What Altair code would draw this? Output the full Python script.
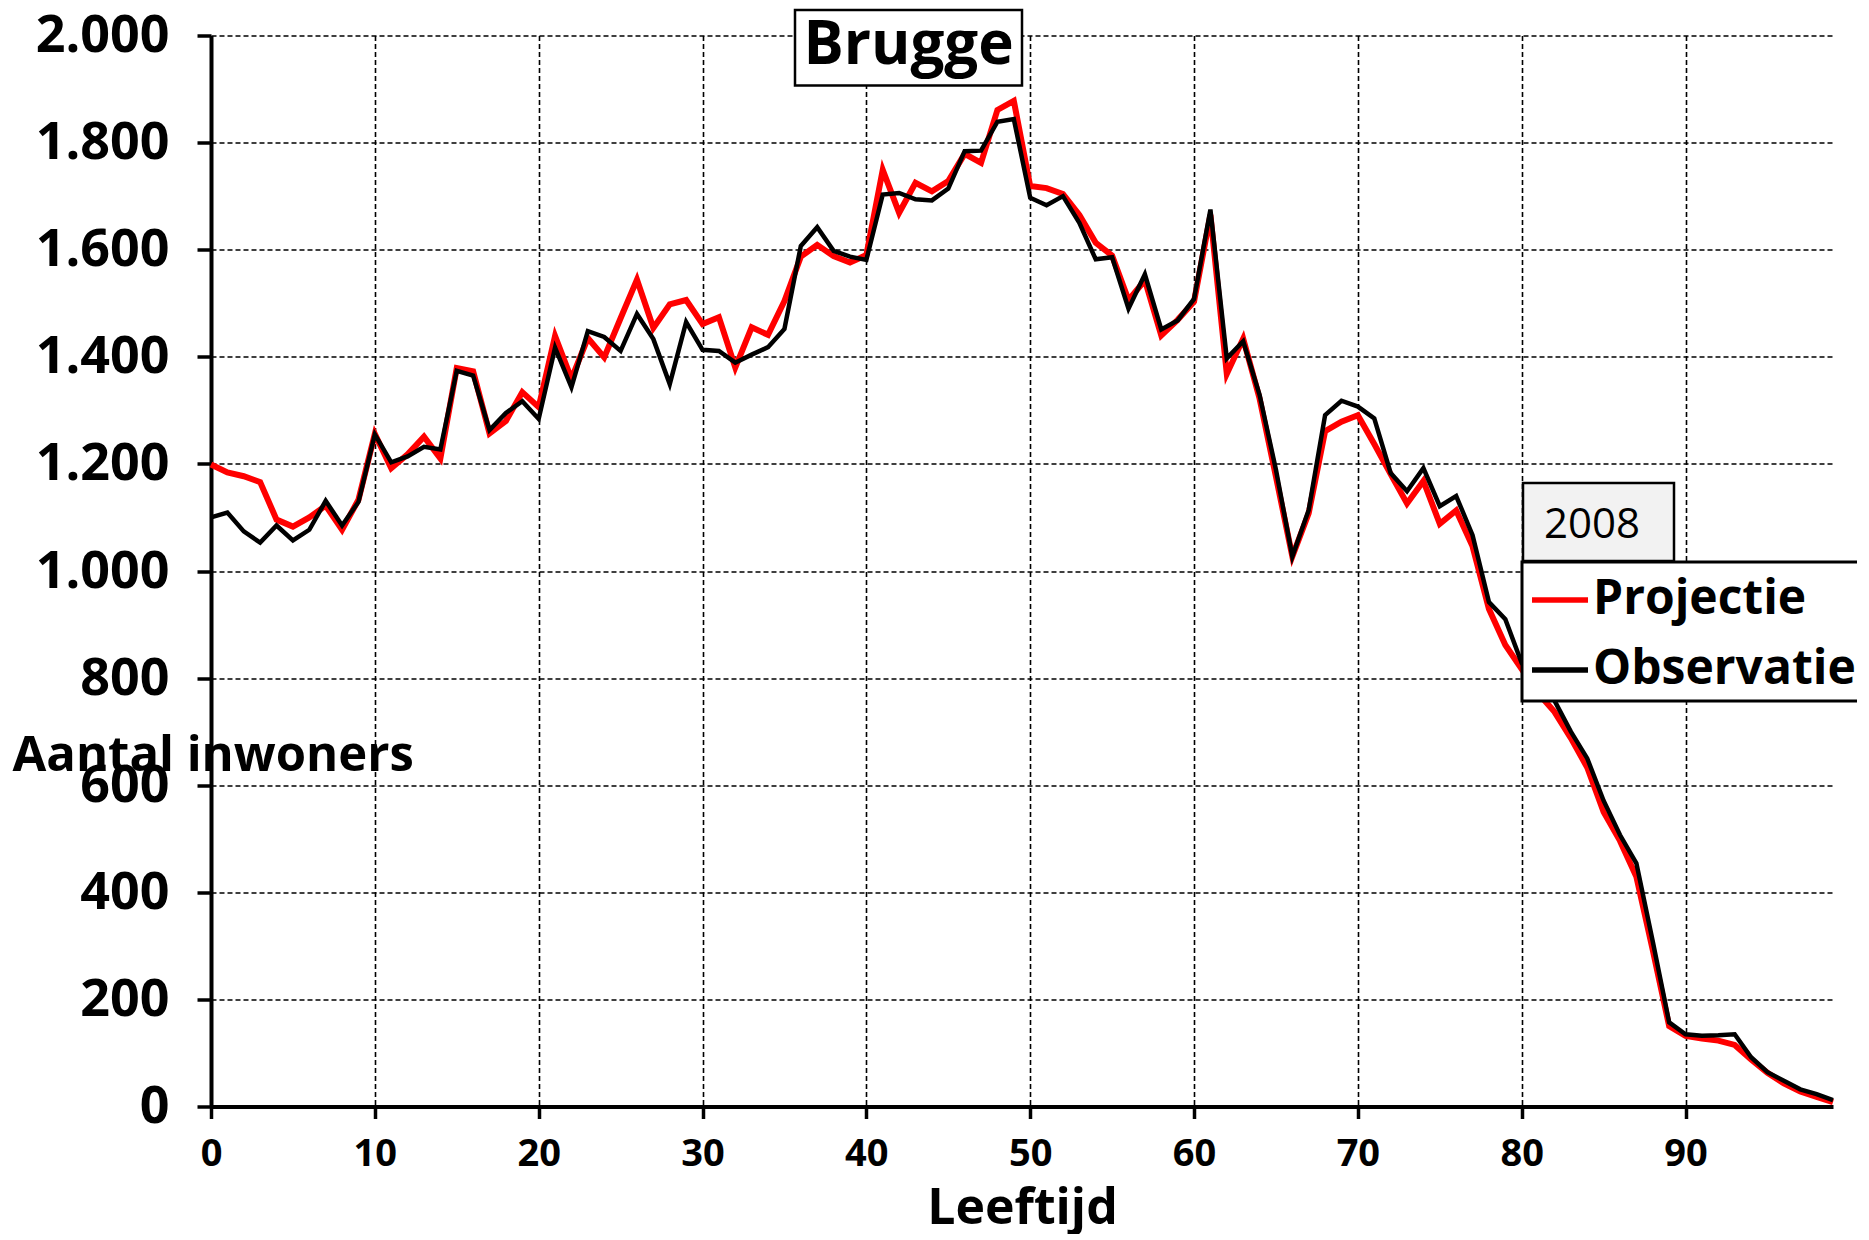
import altair as alt
import pandas as pd

# ---------------- data ----------------
ages = list(range(100))

projectie = [
    1199, 1184, 1177, 1166, 1096, 1083, 1100, 1122, 1077, 1133,
    1256, 1192, 1218, 1251, 1210, 1379, 1373, 1257, 1280, 1334,
    1306, 1439, 1359, 1435, 1399, 1472, 1544, 1454, 1498, 1506,
    1461, 1474, 1380, 1455, 1441, 1504, 1587, 1609, 1588, 1576,
    1590, 1749, 1669, 1725, 1709, 1728, 1779, 1762, 1861, 1878,
    1719, 1715, 1704, 1665, 1613, 1589, 1506, 1543, 1440, 1469,
    1503, 1665, 1368, 1434, 1322, 1176, 1027, 1108, 1261, 1279,
    1291, 1237, 1181, 1126, 1168, 1088, 1113, 1046, 929, 862,
    817, 772, 737, 688, 633, 550, 496, 429, 292, 150,
    132, 127, 123, 115, 88, 63, 43, 28, 18, 8,
]

observatie = [
    1100, 1109, 1074, 1053, 1085, 1057, 1077, 1131, 1085, 1129,
    1255, 1203, 1214, 1232, 1227, 1374, 1365, 1263, 1295, 1317,
    1284, 1417, 1343, 1448, 1437, 1411, 1480, 1433, 1349, 1465,
    1413, 1411, 1389, 1404, 1418, 1452, 1607, 1642, 1598, 1587,
    1581, 1703, 1706, 1694, 1692, 1714, 1784, 1785, 1839, 1844,
    1697, 1683, 1700, 1650, 1582, 1586, 1490, 1554, 1451, 1468,
    1508, 1675, 1397, 1429, 1329, 1189, 1027, 1114, 1291, 1318,
    1307, 1285, 1183, 1149, 1192, 1121, 1140, 1067, 942, 910,
    828, 793, 758, 700, 650, 571, 507, 454, 308, 157,
    135, 132, 133, 135, 92, 64, 48, 32, 23, 12,
]

series_names = ["Projectie", "Observatie"]
series_colors = ["#ff0000", "#000000"]
series_widths = [6, 4.5]
x_ticks = list(range(0, 91, 10))
y_ticks = list(range(0, 2001, 200))
title_text = ["Brugge"]
year_text = ["2008"]
x_title = "Leeftijd"
y_title = "Aantal inwoners"

df = pd.DataFrame({
    "Leeftijd": ages + ages,
    "Aantal": projectie + observatie,
    "Reeks": [series_names[0]] * len(ages) + [series_names[1]] * len(ages),
})

# ---------------- layout ----------------
W, H = 1622, 1071
FONT = "Open Sans"

color_scale = alt.Scale(domain=series_names, range=series_colors)

legend = alt.Legend(
    title=None,
    orient="none",
    legendX=1311,
    legendY=526.5,
    symbolType="stroke",
    symbolSize=3136,
    symbolStrokeWidth=5.5,
    labelFont=FONT,
    labelFontSize=48,
    labelFontWeight="bold",
    labelColor="black",
    labelLimit=500,
    labelOffset=2,
    padding=7,
    rowPadding=15,
    strokeColor="black",
    fillColor="white",
)

x_enc = alt.X(
    "Leeftijd:Q",
    scale=alt.Scale(domain=[0, 99], nice=False, zero=False),
    axis=alt.Axis(
        values=x_ticks,
        title=x_title,
        titleBaseline="alphabetic",
        titleY=117,
    ),
)
y_enc = alt.Y(
    "Aantal:Q",
    scale=alt.Scale(domain=[0, 2000], nice=False),
    axis=alt.Axis(
        values=y_ticks,
        labelExpr="replace(format(datum.value, ','), ',', '.')",
        title=y_title,
        titleAngle=0,
        titleAlign="left",
        titleBaseline="alphabetic",
        titleX=-199,
        titleFontSize=49,
        titleY=735,
    ),
)

base = alt.Chart(df)

def series_layer(name, width):
    return base.transform_filter(alt.datum.Reeks == name).mark_line(
        strokeWidth=width, strokeJoin="miter"
    ).encode(
        x=x_enc,
        y=y_enc,
        color=alt.Color("Reeks:N", scale=color_scale, legend=legend),
    )

red_line = series_layer(series_names[0], series_widths[0])
black_line = series_layer(series_names[1], series_widths[1])

title_df = pd.DataFrame({"t": title_text})
title_box = alt.Chart(title_df).mark_rect(
    fill="white", stroke="black", strokeWidth=2.5
).encode(x=alt.value(584), x2=alt.value(811), y=alt.value(-25.5), y2=alt.value(50))
title_label = alt.Chart(title_df).mark_text(
    font=FONT, fontSize=60, fontWeight="bold", color="black",
    align="center", baseline="alphabetic",
).encode(x=alt.value(697.5), y=alt.value(28), text="t:N")

year_df = pd.DataFrame({"t": year_text})
year_box = alt.Chart(year_df).mark_rect(
    fill="#f2f2f2", stroke="black", strokeWidth=2.5
).encode(x=alt.value(1312), x2=alt.value(1463), y=alt.value(447.5), y2=alt.value(525.5))
year_label = alt.Chart(year_df).mark_text(
    font=FONT, fontSize=42, fontWeight="normal", color="black",
    align="left", baseline="alphabetic",
).encode(x=alt.value(1333), y=alt.value(502.5), text="t:N")

chart = (
    alt.layer(red_line, black_line, title_box, title_label, year_box, year_label)
    .properties(
        width=W,
        height=H,
        autosize=alt.AutoSizeParams(type="none"),
        padding={"left": 203, "top": 27.5, "right": 24, "bottom": 127},
        background="white",
    )
    .configure_view(stroke=None)
    .configure_axis(
        domainColor="black",
        domainWidth=4,
        tickColor="black",
        tickWidth=3.5,
        gridColor="black",
        gridDash=[5, 3],
        gridWidth=1.6,
        gridOpacity=1,
        labelFont=FONT,
        labelFontWeight="bold",
        labelColor="black",
        labelFlush=False,
        titleFont=FONT,
        titleFontWeight="bold",
        titleFontSize=50,
        titleColor="black",
    )
    .configure_axisX(labelFontSize=38, tickSize=12, labelPadding=17, labelAngle=0)
    .configure_axisY(labelFontSize=52, tickSize=14, labelPadding=28)
    .configure_legend(strokeWidth=3)
)

chart.save("out.html", embed_options={"renderer": "svg", "actions": False})
